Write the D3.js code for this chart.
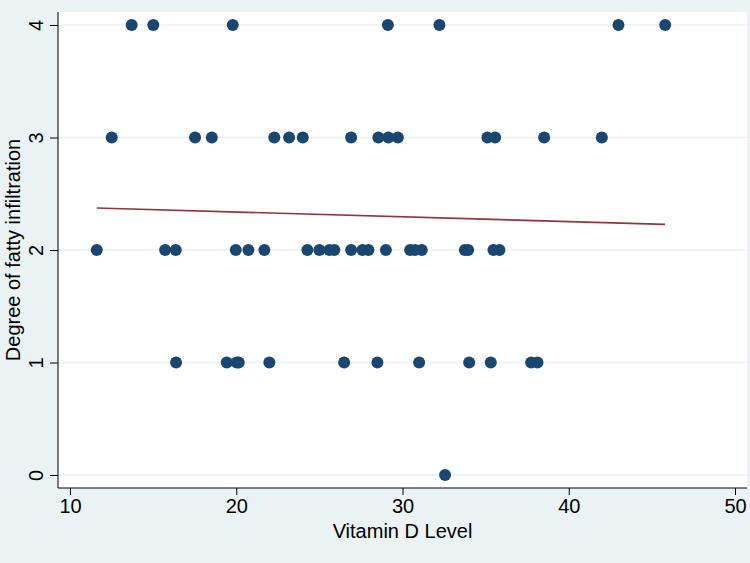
<!DOCTYPE html>
<html>
<head>
<meta charset="utf-8">
<script src="https://cdn.jsdelivr.net/npm/d3@7"></script>
<style>
  body { margin: 0; background: #eaf2f3; }
  svg { display: block; font-family: "Liberation Sans", Arial, sans-serif; }
</style>
</head>
<body>
<div id="chart"></div>
<script>
// Vitamin D level vs degree of fatty infiltration
var grade4 = [13.71, 15.01, 19.79, 29.12, 32.22, 42.99, 45.80];
var grade3 = [12.51, 17.52, 18.53, 22.29, 23.18, 24.0, 26.91, 28.55, 29.15, 29.72,
              35.11, 35.57, 38.52, 41.99];
var grade2 = [11.61, 15.72, 16.36, 19.97, 20.73, 21.69, 24.28, 25.0, 25.6, 25.9,
              26.91, 27.59, 27.95, 29.0, 30.46, 30.76, 31.16, 33.75, 33.95, 35.47, 35.83];
var grade1 = [16.38, 19.43, 20.03, 20.15, 21.99, 26.49, 28.49, 31.0, 34.01, 35.31, 37.74, 38.12];
var grade0 = [32.56];

// fitted line end points
var fitX = [11.61, 45.80];
var fitY = [2.373, 2.228];

var xTicks = [10, 20, 30, 40, 50];
var yTicks = [0, 1, 2, 3, 4];

var xTitle = "Vitamin D Level";
var yTitle = "Degree of fatty infiltration";

drawChart();

function drawChart() {
    var width = 750, height = 563;
    var plot = {left: 58, right: 747, top: 12, bottom: 488};
    var fs = 20;

    var svg = d3.select("#chart").append("svg")
        .attr("width", width)
        .attr("height", height);

    svg.append("rect")
        .attr("width", width).attr("height", height)
        .attr("fill", "#eaf2f3");

    var x = d3.scaleLinear().domain([10, 50]).range([70, 735]);
    var y = d3.scaleLinear().domain([0, 4]).range([475, 25]);

    // plot region
    svg.append("rect")
        .attr("x", plot.left).attr("y", plot.top)
        .attr("width", plot.right - plot.left)
        .attr("height", plot.bottom - plot.top)
        .attr("fill", "#ffffff");

    // grid
    svg.append("g").selectAll("line")
        .data(yTicks)
        .join("line")
        .attr("x1", plot.left).attr("x2", plot.right)
        .attr("y1", function(d) { return y(d); })
        .attr("y2", function(d) { return y(d); })
        .attr("stroke", "#eaf2f3")
        .attr("stroke-width", 1.5);

    // points
    var points = [];
    [grade0, grade1, grade2, grade3, grade4].forEach(function(list, g) {
        list.forEach(function(v) { points.push({x: v, y: g}); });
    });

    svg.append("g").selectAll("circle")
        .data(points)
        .join("circle")
        .attr("cx", function(d) { return x(d.x); })
        .attr("cy", function(d) { return y(d.y); })
        .attr("r", 6)
        .attr("fill", "#1a476f");

    // fitted line
    var line = d3.line()
        .x(function(d) { return x(d[0]); })
        .y(function(d) { return y(d[1]); });

    svg.append("path")
        .datum(d3.zip(fitX, fitY))
        .attr("d", line)
        .attr("fill", "none")
        .attr("stroke", "#90353b")
        .attr("stroke-width", 1.6);

    // x axis
    var xAxis = svg.append("g")
        .attr("transform", "translate(0," + plot.bottom + ")")
        .call(d3.axisBottom(x).tickValues(xTicks).tickFormat(d3.format("d"))
            .tickSize(7).tickPadding(4));
    xAxis.select(".domain")
        .attr("d", "M" + plot.left + ",0H" + plot.right);
    xAxis.selectAll("text")
        .attr("font-size", fs)
        .attr("font-family", "Liberation Sans, Arial, sans-serif")
        .attr("fill", "#000");

    // y axis
    var yAxis = svg.append("g")
        .attr("transform", "translate(" + plot.left + ",0)")
        .call(d3.axisLeft(y).tickValues(yTicks).tickFormat(d3.format("d")).tickSize(8));
    yAxis.select(".domain")
        .attr("d", "M0," + plot.top + "V" + plot.bottom);
    yAxis.selectAll(".tick text")
        .attr("font-size", fs)
        .attr("font-family", "Liberation Sans, Arial, sans-serif")
        .attr("fill", "#000")
        .attr("x", null).attr("dy", null)
        .attr("text-anchor", "middle")
        .attr("transform", "translate(-15,0) rotate(-90)");

    svg.selectAll(".domain, .tick line").attr("stroke", "#000");

    // axis titles
    svg.append("text")
        .attr("x", (plot.left + plot.right) / 2)
        .attr("y", 538)
        .attr("text-anchor", "middle")
        .attr("font-size", fs)
        .attr("fill", "#000")
        .text(xTitle);

    svg.append("text")
        .attr("transform", "translate(20," + (plot.top + plot.bottom) / 2 + ") rotate(-90)")
        .attr("text-anchor", "middle")
        .attr("font-size", fs)
        .attr("fill", "#000")
        .text(yTitle);
}
</script>
</body>
</html>
